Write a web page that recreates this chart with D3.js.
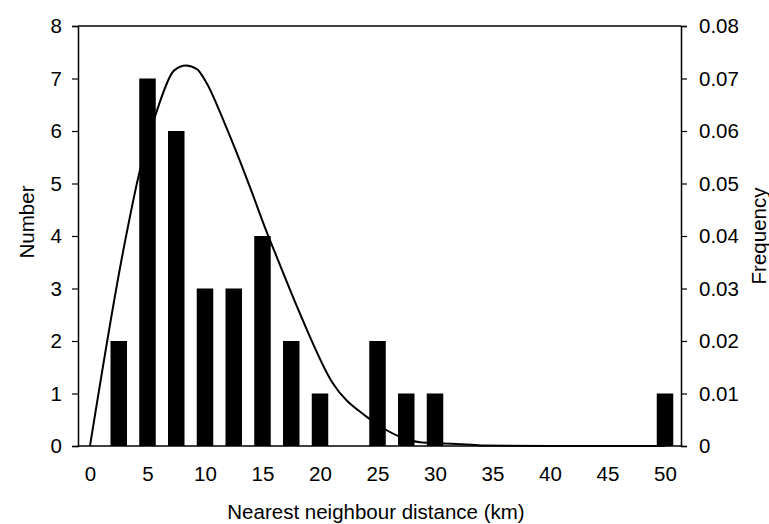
<!DOCTYPE html>
<html>
<head>
<meta charset="utf-8">
<script src="https://cdn.jsdelivr.net/npm/d3@7"></script>
<style>
  body { margin: 0; background: #fff; }
  text { font-family: "Liberation Sans", Arial, sans-serif; fill: #000; }
</style>
</head>
<body>
<div id="chart"></div>
<script>
var w = 769
var h = 524
var fontSize = "20.5px"

// bar data: distance class (km) and number of sites
var distances = [2.5, 5, 7.5, 10, 12.5, 15, 17.5, 20, 25, 27.5, 30, 50]
var counts = [2, 7, 6, 3, 3, 4, 2, 1, 2, 1, 1, 1]

// fitted curve (km, frequency)
var curveX = [0, 2.9, 4.35, 5.9, 7.3, 8.35, 9.3, 10.15, 11.7, 13.0, 14.1, 15.2, 16.35, 18.3, 21.1, 24.1, 25.8, 27.8, 29.3, 31.9, 34, 40, 50]
var curveY = [0, 0.0373, 0.0526, 0.0644, 0.0715, 0.0725, 0.0718, 0.0691, 0.0615, 0.0545, 0.0482, 0.0417, 0.0354, 0.025, 0.012, 0.0055, 0.003, 0.0011, 0.0006, 0.0004, 0.0001, 0, 0]

var xTicks = [0, 5, 10, 15, 20, 25, 30, 35, 40, 45, 50]
var leftTicks = [0, 1, 2, 3, 4, 5, 6, 7, 8]
var rightTicks = [0, 0.01, 0.02, 0.03, 0.04, 0.05, 0.06, 0.07, 0.08]

// plot frame (px)
var pLeft = 78, pRight = 681, pTop = 26, pBottom = 446
var barW = 16.5

var svg = d3.select("#chart").append("svg").attr("width", w).attr("height", h)

var x = d3.scaleLinear().domain([0, 50]).range([90, 665])
var yL = d3.scaleLinear().domain([0, 8]).range([pBottom, pTop])
var yR = d3.scaleLinear().domain([0, 0.08]).range([pBottom, pTop])

// bars
svg.selectAll("rect.bar")
    .data(counts)
    .enter()
    .append("rect")
    .attr("class", "bar")
    .attr("x", function(d, i) { return x(distances[i]) - barW / 2 })
    .attr("width", barW)
    .attr("y", function(d) { return yL(d) })
    .attr("height", function(d) { return pBottom - yL(d) })
    .attr("fill", "#000")

// curve
var pts = curveX.map(function(v, i) { return [v, curveY[i]] })
var line = d3.line()
    .x(function(d) { return x(d[0]) })
    .y(function(d) { return yR(d[1]) })
    .curve(d3.curveMonotoneX)
svg.append("path")
    .datum(pts)
    .attr("d", line)
    .attr("fill", "none")
    .attr("stroke", "#000")
    .attr("stroke-width", 2)

// frame (top line)
svg.append("line")
    .attr("x1", pLeft).attr("x2", pRight)
    .attr("y1", pTop).attr("y2", pTop)
    .attr("stroke", "#000").attr("stroke-width", 1.5)

// left axis
var gL = svg.append("g")
    .attr("transform", "translate(" + pLeft + ",0)")
    .call(d3.axisLeft(yL).tickValues(leftTicks).tickSize(6).tickPadding(10).tickFormat(d3.format("d")))
// right axis
var gR = svg.append("g")
    .attr("transform", "translate(" + pRight + ",0)")
    .call(d3.axisRight(yR).tickValues(rightTicks).tickSize(6).tickPadding(12)
        .tickFormat(function(d) { return d === 0 ? "0" : d.toFixed(2) }))
// bottom axis
var gB = svg.append("g")
    .attr("transform", "translate(0," + pBottom + ")")
    .call(d3.axisBottom(x).tickValues(xTicks).tickSize(0).tickPadding(20))

;[gL, gR, gB].forEach(function(g) {
    g.selectAll("text").style("font-size", fontSize).style("font-family", "'Liberation Sans', Arial, sans-serif")
    g.selectAll("line").attr("stroke-width", 1.2)
    g.select(".domain").attr("stroke-width", 1.5)
})
gB.select(".domain").attr("d", "M" + pLeft + ",0H" + pRight)

// titles
svg.append("text")
    .text("Nearest neighbour distance (km)")
    .attr("x", 376).attr("y", 519)
    .attr("text-anchor", "middle")
    .style("font-size", fontSize)

svg.append("text")
    .text("Number")
    .attr("transform", "translate(27,222) rotate(-90)")
    .attr("dy", "0.35em")
    .attr("text-anchor", "middle")
    .style("font-size", fontSize)

svg.append("text")
    .text("Frequency")
    .attr("transform", "translate(759,236) rotate(-90)")
    .attr("dy", "0.35em")
    .attr("text-anchor", "middle")
    .style("font-size", fontSize)
</script>
</body>
</html>
